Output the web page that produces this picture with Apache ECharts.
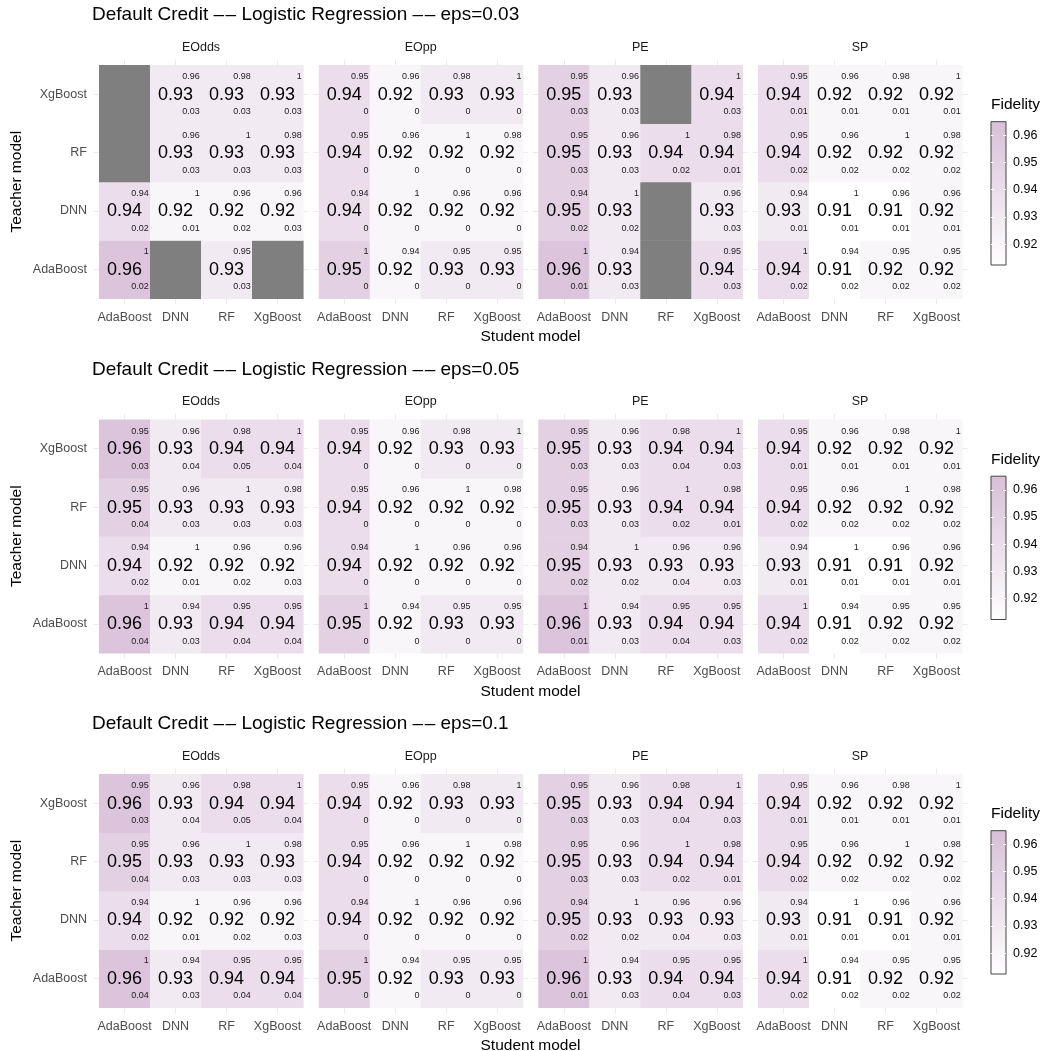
<!DOCTYPE html>
<html><head><meta charset="utf-8">
<script src="https://cdn.jsdelivr.net/npm/echarts@6/dist/echarts.min.js"></script>
<style>html,body{margin:0;padding:0;background:#fff}#c{width:1047px;height:1051px}</style>
</head><body><div id="c"></div>
<script>
// ---------- DATA ----------
const students = ['AdaBoost', 'DNN', 'RF', 'XgBoost'];
const teachers = ['AdaBoost', 'DNN', 'RF', 'XgBoost']; // bottom -> top
const metrics = ['EOdds', 'EOpp', 'PE', 'SP'];
const epsLabels = ['0.03', '0.05', '0.1'];
const legendTicks = [0.92, 0.93, 0.94, 0.95, 0.96];
const fidelityRange = [0.9123, 0.965];

// top-right small numbers, rows = teacher (AdaBoost, DNN, RF, XgBoost), cols = student
const similarity = [
  [1, 0.94, 0.95, 0.95],
  [0.94, 1, 0.96, 0.96],
  [0.95, 0.96, 1, 0.98],
  [0.95, 0.96, 0.98, 1]
];

// eps = 0.03 : fidelity (big) and bottom-right numbers; null = NA
const fid003_EOdds = [[0.96, null, 0.93, null], [0.94, 0.92, 0.92, 0.92], [null, 0.93, 0.93, 0.93], [null, 0.93, 0.93, 0.93]];
const low003_EOdds = [[0.02, null, 0.03, null], [0.02, 0.01, 0.02, 0.03], [null, 0.03, 0.03, 0.03], [null, 0.03, 0.03, 0.03]];
const fid003_EOpp = [[0.95, 0.92, 0.93, 0.93], [0.94, 0.92, 0.92, 0.92], [0.94, 0.92, 0.92, 0.92], [0.94, 0.92, 0.93, 0.93]];
const low003_EOpp = [[0, 0, 0, 0], [0, 0, 0, 0], [0, 0, 0, 0], [0, 0, 0, 0]];
const fid003_PE = [[0.96, 0.93, null, 0.94], [0.95, 0.93, null, 0.93], [0.95, 0.93, 0.94, 0.94], [0.95, 0.93, null, 0.94]];
const low003_PE = [[0.01, 0.03, null, 0.03], [0.02, 0.02, null, 0.03], [0.03, 0.03, 0.02, 0.01], [0.03, 0.03, null, 0.03]];
const fid003_SP = [[0.94, 0.91, 0.92, 0.92], [0.93, 0.91, 0.91, 0.92], [0.94, 0.92, 0.92, 0.92], [0.94, 0.92, 0.92, 0.92]];
const low003_SP = [[0.02, 0.02, 0.02, 0.02], [0.01, 0.01, 0.01, 0.01], [0.02, 0.02, 0.02, 0.02], [0.01, 0.01, 0.01, 0.01]];

// eps = 0.05
const fid005_EOdds = [[0.96, 0.93, 0.94, 0.94], [0.94, 0.92, 0.92, 0.92], [0.95, 0.93, 0.93, 0.93], [0.96, 0.93, 0.94, 0.94]];
const low005_EOdds = [[0.04, 0.03, 0.04, 0.04], [0.02, 0.01, 0.02, 0.03], [0.04, 0.03, 0.03, 0.03], [0.03, 0.04, 0.05, 0.04]];
const fid005_EOpp = [[0.95, 0.92, 0.93, 0.93], [0.94, 0.92, 0.92, 0.92], [0.94, 0.92, 0.92, 0.92], [0.94, 0.92, 0.93, 0.93]];
const low005_EOpp = [[0, 0, 0, 0], [0, 0, 0, 0], [0, 0, 0, 0], [0, 0, 0, 0]];
const fid005_PE = [[0.96, 0.93, 0.94, 0.94], [0.95, 0.93, 0.93, 0.93], [0.95, 0.93, 0.94, 0.94], [0.95, 0.93, 0.94, 0.94]];
const low005_PE = [[0.01, 0.03, 0.04, 0.03], [0.02, 0.02, 0.04, 0.03], [0.03, 0.03, 0.02, 0.01], [0.03, 0.03, 0.04, 0.03]];
const fid005_SP = [[0.94, 0.91, 0.92, 0.92], [0.93, 0.91, 0.91, 0.92], [0.94, 0.92, 0.92, 0.92], [0.94, 0.92, 0.92, 0.92]];
const low005_SP = [[0.02, 0.02, 0.02, 0.02], [0.01, 0.01, 0.01, 0.01], [0.02, 0.02, 0.02, 0.02], [0.01, 0.01, 0.01, 0.01]];

// eps = 0.1
const fid01_EOdds = [[0.96, 0.93, 0.94, 0.94], [0.94, 0.92, 0.92, 0.92], [0.95, 0.93, 0.93, 0.93], [0.96, 0.93, 0.94, 0.94]];
const low01_EOdds = [[0.04, 0.03, 0.04, 0.04], [0.02, 0.01, 0.02, 0.03], [0.04, 0.03, 0.03, 0.03], [0.03, 0.04, 0.05, 0.04]];
const fid01_EOpp = [[0.95, 0.92, 0.93, 0.93], [0.94, 0.92, 0.92, 0.92], [0.94, 0.92, 0.92, 0.92], [0.94, 0.92, 0.93, 0.93]];
const low01_EOpp = [[0, 0, 0, 0], [0, 0, 0, 0], [0, 0, 0, 0], [0, 0, 0, 0]];
const fid01_PE = [[0.96, 0.93, 0.94, 0.94], [0.95, 0.93, 0.93, 0.93], [0.95, 0.93, 0.94, 0.94], [0.95, 0.93, 0.94, 0.94]];
const low01_PE = [[0.01, 0.03, 0.04, 0.03], [0.02, 0.02, 0.04, 0.03], [0.03, 0.03, 0.02, 0.01], [0.03, 0.03, 0.04, 0.03]];
const fid01_SP = [[0.94, 0.91, 0.92, 0.92], [0.93, 0.91, 0.91, 0.92], [0.94, 0.92, 0.92, 0.92], [0.94, 0.92, 0.92, 0.92]];
const low01_SP = [[0.02, 0.02, 0.02, 0.02], [0.01, 0.01, 0.01, 0.01], [0.02, 0.02, 0.02, 0.02], [0.01, 0.01, 0.01, 0.01]];

const fidTables = [
  [fid003_EOdds, fid003_EOpp, fid003_PE, fid003_SP],
  [fid005_EOdds, fid005_EOpp, fid005_PE, fid005_SP],
  [fid01_EOdds, fid01_EOpp, fid01_PE, fid01_SP]
];
const lowTables = [
  [low003_EOdds, low003_EOpp, low003_PE, low003_SP],
  [low005_EOdds, low005_EOpp, low005_PE, low005_SP],
  [low01_EOdds, low01_EOpp, low01_PE, low01_SP]
];

// ---------- LAYOUT / STYLE ----------
const FONT = '"Liberation Sans", Arial, Helvetica, sans-serif';
const panelLeft = [99, 318.7, 538.3, 758];
const panelW = 204, panelH = 233.5, panelTop0 = 65, rowStep = 354.5;
const STUB = '#ebebeb';
const lowColor = '#ffffff', highColor = '#d8bfd8';
const DASH = '\u2013\u200A\u2013';

const grids = [], xAxes = [], yAxes = [], series = [], titles = [];

function renderCell(params, api) {
  const v = api.value(2);
  const c = api.coord([api.value(0), api.value(1)]);
  const sz = api.size([1, 1]);
  const w = sz[0], h = sz[1];
  const x0 = c[0] - w / 2, y0 = c[1] - h / 2;
  const na = v == null || isNaN(v);
  const children = [{
    type: 'rect',
    shape: { x: x0, y: y0, width: w + 0.6, height: h + 0.6 },
    style: { fill: na ? '#7f7f7f' : api.visual('color') }
  }];
  if (!na) {
    children.push({
      type: 'text', x: c[0], y: c[1] + 0.5,
      style: { text: String(v), fontSize: 18, fontFamily: FONT, fill: '#000', align: 'center', verticalAlign: 'middle' }
    });
    children.push({
      type: 'text', x: x0 + w - 1.2, y: c[1] - 0.3 * h,
      style: { text: String(api.value(3)), fontSize: 9, fontFamily: FONT, fill: '#222', align: 'right', verticalAlign: 'middle' }
    });
    children.push({
      type: 'text', x: x0 + w - 1.2, y: c[1] + 0.3 * h,
      style: { text: String(api.value(4)), fontSize: 9, fontFamily: FONT, fill: '#222', align: 'right', verticalAlign: 'middle' }
    });
  }
  return { type: 'group', children: children };
}

const cellSeriesIdx = [];
for (let r = 0; r < 3; r++) {
  const top = panelTop0 + r * rowStep;
  titles.push({
    text: 'Default Credit ' + DASH + ' Logistic Regression ' + DASH + ' eps=' + epsLabels[r],
    left: 92, top: top - 50 - 9.5, padding: 0,
    textStyle: { fontSize: 19, fontWeight: 'normal', color: '#000', fontFamily: FONT, lineHeight: 19 }
  });
  titles.push({
    text: 'Student model', left: 530.5, textAlign: 'center', top: top + 272 - 8, padding: 0,
    textStyle: { fontSize: 15.5, fontWeight: 'normal', color: '#000', fontFamily: FONT, lineHeight: 16 }
  });
  for (let m = 0; m < 4; m++) {
    const g = grids.length;
    grids.push({ left: panelLeft[m], top: top, width: panelW, height: panelH, containLabel: false });
    const tickStyle = { show: true, alignWithLabel: true, interval: 0, length: 5.5, lineStyle: { color: STUB, width: 1 } };
    xAxes.push({
      type: 'category', gridIndex: g, data: students, position: 'bottom',
      axisLine: { show: false }, axisTick: tickStyle, splitLine: { show: false },
      axisLabel: { interval: 0, color: '#4d4d4d', fontSize: 12.5, margin: 12.5, fontFamily: FONT }
    });
    xAxes.push({
      type: 'category', gridIndex: g, data: students, position: 'top',
      axisLine: { show: false }, axisTick: tickStyle, splitLine: { show: false },
      axisLabel: { show: false, interval: 0 },
      name: metrics[m], nameLocation: 'middle', nameGap: 11,
      nameTextStyle: { fontSize: 12.5, color: '#1a1a1a', fontFamily: FONT }
    });
    const yl = {
      type: 'category', gridIndex: g, data: teachers, position: 'left',
      axisLine: { show: false }, axisTick: tickStyle, splitLine: { show: false },
      axisLabel: { show: m === 0, interval: 0, color: '#4d4d4d', fontSize: 12.5, margin: 12, fontFamily: FONT }
    };
    if (m === 0) {
      yl.name = 'Teacher model'; yl.nameLocation = 'middle'; yl.nameGap = 74; yl.nameRotate = 90;
      yl.nameTextStyle = { fontSize: 15.5, color: '#000', fontFamily: FONT };
    }
    yAxes.push(yl);
    yAxes.push({
      type: 'category', gridIndex: g, data: teachers, position: 'right',
      axisLine: { show: false }, axisTick: tickStyle, splitLine: { show: false },
      axisLabel: { show: false, interval: 0 }
    });
    const fid = fidTables[r][m], low = lowTables[r][m];
    const data = [];
    for (let t = 0; t < 4; t++) for (let s = 0; s < 4; s++) {
      data.push([s, t, fid[t][s], similarity[t][s], low[t][s]]);
    }
    cellSeriesIdx.push(series.length);
    series.push({
      type: 'custom', xAxisIndex: 2 * g, yAxisIndex: 2 * g,
      encode: { x: 0, y: 1 }, renderItem: renderCell, data: data, silent: true, animation: false
    });
  }
}

// legends (colorbar) per row
for (let r = 0; r < 3; r++) {
  const top = 121.7 + r * rowStep;
  const g = grids.length;
  grids.push({ left: 991, top: top, width: 15, height: 143.3 });
  const xi = xAxes.length;
  xAxes.push({ type: 'value', gridIndex: g, min: 0, max: 1, show: false });
  const base = {
    type: 'value', gridIndex: g, min: fidelityRange[0], max: fidelityRange[1], z: 5,
    axisLine: { show: false }, splitLine: { show: false },
    axisTick: { show: true, inside: true, length: 3, customValues: legendTicks, lineStyle: { color: '#ffffff', width: 1 } }
  };
  const yi = yAxes.length;
  yAxes.push(Object.assign({}, base, { position: 'left', axisLabel: { show: false } }));
  yAxes.push(Object.assign({}, base, {
    position: 'right',
    axisLabel: { show: true, customValues: legendTicks, margin: 7, color: '#000', fontSize: 12.5, fontFamily: FONT, formatter: v => v.toFixed(2) }
  }));
  series.push({
    type: 'custom', xAxisIndex: xi, yAxisIndex: yi, silent: true, animation: false, z: 1,
    data: [[0.5, 0.94]],
    renderItem: function (params) {
      const cs = params.coordSys;
      return {
        type: 'rect', shape: { x: cs.x, y: cs.y, width: cs.width, height: cs.height },
        style: {
          fill: new echarts.graphic.LinearGradient(0, 1, 0, 0, [{ offset: 0, color: lowColor }, { offset: 1, color: highColor }]),
          stroke: '#444', lineWidth: 1
        }
      };
    }
  });
  titles.push({
    text: 'Fidelity', left: 991, top: 105 + r * rowStep - 8, padding: 0,
    textStyle: { fontSize: 15.5, fontWeight: 'normal', color: '#000', fontFamily: FONT, lineHeight: 16 }
  });
}

const chart = echarts.init(document.getElementById('c'), null, { renderer: 'canvas' });
chart.setOption({
  backgroundColor: '#ffffff',
  animation: false,
  textStyle: { fontFamily: FONT },
  title: titles,
  grid: grids,
  xAxis: xAxes,
  yAxis: yAxes,
  visualMap: [{
    type: 'continuous', show: false, min: fidelityRange[0], max: fidelityRange[1],
    dimension: 2, seriesIndex: cellSeriesIdx,
    inRange: { color: [lowColor, highColor] }, outOfRange: { color: '#7f7f7f' }
  }],
  series: series
});
</script>
</body></html>
